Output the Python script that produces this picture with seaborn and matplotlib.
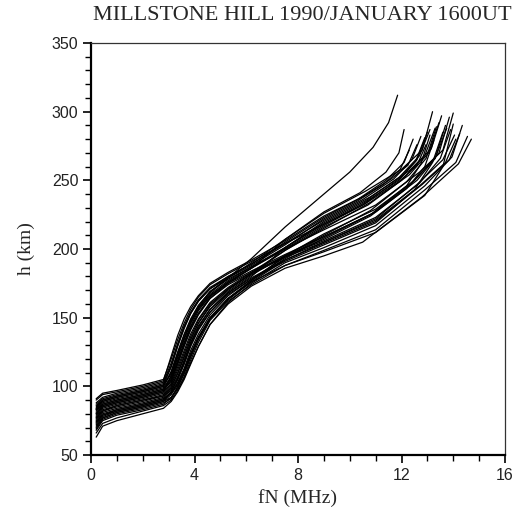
import numpy as np
import pandas as pd
import matplotlib
matplotlib.use("Agg")
import matplotlib.pyplot as plt
from matplotlib.ticker import MultipleLocator
import seaborn as sns

# Common plasma-frequency nodes (MHz) for the lower part of every profile
f_nodes = [0.2, 0.45, 1.0, 2.0, 2.8, 3.1, 3.35, 3.6, 3.85, 4.15, 4.6, 5.3, 6.2, 7.5, 9.0]

# Heights (km) of each profile at f_nodes
h_p01 = [91, 95, 97, 101, 105, 120, 134, 146, 156, 165, 174, 182, 191, 204, 218]
h_p02 = [63, 71, 75, 80, 84, 89, 96, 105, 116, 129, 145, 160, 173, 186, 195]
h_p03 = [80, 86, 89, 93, 97, 104, 116, 129, 141, 152, 164, 175, 186, 207, 226]
h_p04 = [76, 82, 85, 89, 93, 97, 105, 116, 129, 141, 154, 168, 180, 201, 220]
h_p05 = [84, 89, 92, 96, 100, 111, 125, 138, 149, 159, 169, 178, 187, 200, 214]
h_p06 = [72, 78, 82, 86, 90, 95, 102, 112, 124, 136, 150, 164, 177, 195, 211]
h_p07 = [68, 75, 79, 83, 87, 92, 99, 109, 121, 134, 149, 163, 176, 188, 199]
h_p08 = [74, 80, 83, 87, 91, 96, 106, 119, 132, 144, 156, 168, 179, 192, 204]
h_p09 = [78, 84, 87, 91, 95, 101, 112, 124, 136, 148, 160, 171, 182, 194, 205]
h_p10 = [86, 90, 93, 97, 101, 114, 129, 142, 153, 162, 171, 180, 189, 204, 221]
h_p11 = [88, 92, 95, 99, 103, 117, 131, 144, 154, 163, 172, 180, 189, 205, 223]
h_p12 = [82, 87, 90, 94, 98, 106, 119, 132, 144, 155, 166, 176, 186, 200, 217]
h_p13 = [79, 85, 88, 92, 96, 102, 114, 126, 138, 149, 161, 172, 183, 199, 215]
h_p14 = [75, 81, 84, 88, 92, 98, 107, 118, 131, 143, 156, 169, 181, 195, 210]
h_p15 = [83, 88, 91, 95, 99, 107, 121, 134, 146, 156, 166, 175, 184, 196, 209]
h_p16 = [90, 94, 96, 100, 104, 122, 137, 149, 158, 166, 175, 183, 192, 206, 224]
h_p17 = [71, 77, 81, 85, 89, 94, 101, 111, 123, 135, 149, 164, 177, 193, 208]
h_p18 = [77, 83, 86, 90, 94, 100, 110, 122, 134, 146, 159, 171, 182, 195, 206]
h_p19 = [85, 90, 93, 97, 101, 109, 122, 135, 147, 157, 167, 177, 187, 201, 218]
h_p20 = [73, 79, 82, 86, 90, 96, 105, 117, 130, 142, 154, 167, 178, 191, 203]
h_p21 = [70, 77, 81, 85, 89, 92, 98, 106, 117, 129, 145, 161, 175, 190, 201]
h_p22 = [87, 91, 94, 98, 102, 115, 130, 143, 153, 162, 171, 179, 188, 203, 222]
h_p23 = [81, 86, 89, 93, 97, 105, 118, 131, 143, 153, 164, 174, 183, 195, 207]
h_p24 = [66, 73, 77, 82, 86, 90, 97, 107, 119, 132, 148, 162, 174, 188, 198]
h_p25 = [84, 89, 92, 96, 100, 110, 124, 137, 148, 158, 169, 179, 190, 207, 227]
h_p26 = [80, 85, 88, 92, 96, 108, 122, 135, 146, 157, 168, 179, 193, 216, 240]
h_p27 = [77, 82, 86, 90, 93, 99, 109, 121, 134, 146, 158, 170, 182, 199, 216]
h_p28 = [83, 87, 90, 94, 98, 103, 117, 130, 142, 153, 165, 176, 186, 201, 219]
h_p29 = [74, 79, 83, 87, 91, 95, 103, 113, 126, 138, 152, 166, 178, 194, 209]
h_p30 = [69, 76, 80, 84, 88, 91, 100, 110, 122, 135, 150, 164, 176, 192, 205]

# Upper (F2 peak) part of each profile: three approach points and the peak (foF2, hmF2)
tail_f = [
    [10.5, 11.9, 12.6, 13.0], [10.5, 12.8, 14.2, 14.7], [10.6, 12.0, 12.8, 13.2],
    [10.8, 12.3, 13.15, 13.55], [11.0, 12.7, 13.6, 14.0], [11.0, 12.5, 13.45, 13.85],
    [11.0, 12.9, 14.1, 14.55], [11.0, 12.8, 13.85, 14.25], [11.0, 12.7, 13.7, 14.1],
    [10.5, 11.7, 12.4, 12.75], [10.3, 11.4, 12.1, 12.45], [10.5, 11.9, 12.55, 12.9],
    [10.8, 12.3, 13.05, 13.45], [10.8, 12.2, 12.95, 13.35], [11.0, 12.6, 13.3, 13.7],
    [10.5, 11.6, 12.25, 12.6], [10.8, 12.2, 12.75, 13.1], [11.0, 12.7, 13.5, 13.9],
    [10.6, 11.9, 12.6, 12.95], [11.0, 12.5, 13.2, 13.6], [11.0, 12.9, 13.95, 14.35],
    [10.3, 11.3, 11.95, 12.3], [10.8, 12.2, 12.9, 13.25], [11.0, 12.9, 13.6, 14.0],
    [10.4, 11.4, 11.9, 12.1], [10.0, 10.9, 11.5, 11.85], [10.7, 12.0, 12.9, 13.3],
    [10.6, 11.9, 12.7, 13.1], [10.9, 12.4, 13.3, 13.75], [11.0, 12.6, 13.6, 14.05],
]
tail_h = [
    [233, 250, 265, 285], [205, 238, 262, 280], [242, 258, 272, 300],
    [238, 257, 273, 297], [232, 256, 272, 299], [229, 250, 270, 296],
    [214, 243, 263, 282], [220, 247, 265, 284], [221, 246, 263, 280],
    [236, 251, 265, 282], [236, 250, 263, 280], [232, 251, 264, 281],
    [234, 254, 270, 292], [228, 249, 266, 289], [227, 250, 266, 290],
    [238, 251, 261, 276], [225, 246, 262, 283], [223, 248, 266, 287],
    [233, 249, 261, 276], [219, 243, 263, 285], [217, 246, 267, 290],
    [235, 247, 258, 272], [224, 244, 260, 279], [212, 239, 260, 291],
    [241, 256, 270, 287], [256, 274, 292, 312], [232, 250, 268, 288],
    [235, 252, 268, 287], [226, 248, 266, 288], [222, 247, 265, 283],
]

profiles = [h_p01, h_p02, h_p03, h_p04, h_p05, h_p06, h_p07, h_p08, h_p09,
            h_p10, h_p11, h_p12, h_p13, h_p14, h_p15, h_p16, h_p17, h_p18,
            h_p19, h_p20, h_p21, h_p22, h_p23, h_p24, h_p25, h_p26, h_p27,
            h_p28, h_p29, h_p30]

rows = []
for i, hp in enumerate(profiles):
    fs = list(f_nodes) + tail_f[i]
    hs = list(hp) + tail_h[i]
    for k, (f, h) in enumerate(zip(fs, hs)):
        rows.append({"profile": i, "order": k, "fN": f, "h": h})
df = pd.DataFrame(rows)

sns.set_style("ticks")
plt.rcParams["font.family"] = ["Liberation Sans", "DejaVu Sans"]

fig = plt.figure(figsize=(5.16, 5.09), dpi=100)
ax = fig.add_axes([91 / 516, 1 - 455 / 509, (505 - 91) / 516, (455 - 43) / 509])

sns.lineplot(data=df, x="fN", y="h", units="profile", estimator=None, sort=False,
             color="black", linewidth=0.9, legend=False, ax=ax)

ax.set_xlim(0, 16)
ax.set_ylim(50, 350)
ax.xaxis.set_major_locator(MultipleLocator(4))
ax.xaxis.set_minor_locator(MultipleLocator(1))
ax.yaxis.set_major_locator(MultipleLocator(50))
ax.yaxis.set_minor_locator(MultipleLocator(10))
ax.tick_params(axis="both", which="major", length=6, width=1.2, color="black",
               labelsize=11.5, pad=3, labelcolor="#222222")
ax.tick_params(axis="both", which="minor", length=4, width=1.0, color="black")

for side in ["left", "bottom"]:
    ax.spines[side].set_linewidth(1.6)
    ax.spines[side].set_color("black")
for side in ["top", "right"]:
    ax.spines[side].set_linewidth(0.9)
    ax.spines[side].set_color("#333333")

serif = ["Liberation Serif", "DejaVu Serif"]
ax.set_xlabel("fN (MHz)", family=serif, fontsize=14, labelpad=5)
ax.set_ylabel("h (km)", family=serif, fontsize=14, labelpad=12)
fig.text(302 / 516, 1 - 15 / 509, "MILLSTONE HILL 1990/JANUARY 1600UT",
         family=serif, fontsize=16, ha="center", va="center")

fig.savefig("out.png", dpi=100)
